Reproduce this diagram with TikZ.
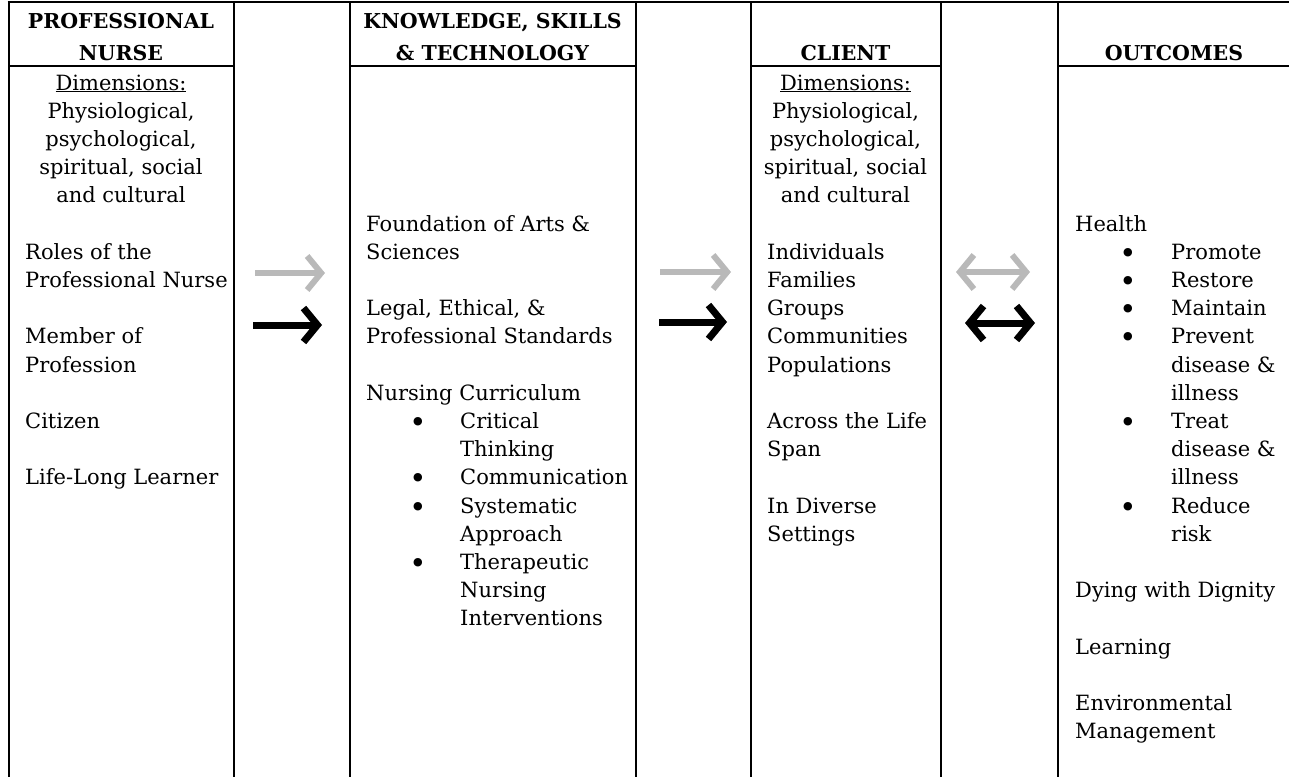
\documentclass[tikz,border=0pt]{standalone}
\usepackage{fontspec}
\setmainfont{DejaVu Serif}
\usetikzlibrary{arrows.meta}

\definecolor{arrowgray}{RGB}{185,185,185}

\tikzset{
  body/.style={inner sep=0pt, font=\fontsize{21}{28.2}\selectfont, align=left, anchor=base west},
  mid/.style={body, align=center, anchor=base},
  dot/.style={inner sep=0pt, font=\fontsize{29}{28.2}\selectfont, anchor=base, yshift=-4pt},
  head/.style={inner sep=0pt, font=\fontsize{20.5}{32}\selectfont\bfseries, align=center, anchor=base},
  tabline/.style={line width=2pt},
  blk/.style={line width=7pt, -{Straight Barb[length=14pt,width=34pt]}},
  lite/.style={blk, draw=arrowgray, line width=6pt},
  blk2/.style={line width=7pt, {Straight Barb[length=14pt,width=34pt]}-{Straight Barb[length=14pt,width=34pt]}},
  lite2/.style={blk2, draw=arrowgray, line width=6pt},
}

\begin{document}
\begin{tikzpicture}[x=1pt,y=-1pt]
\useasboundingbox (0,0) rectangle (1289,776);

% table rules
\draw[tabline] (7.5,2.5) -- (1295,2.5);
\foreach \x in {8.5,233.5,349.5,635.5,751,940.5,1058}
  \draw[tabline] (\x,2.5) -- (\x,780);
\draw[tabline] (8.5,66) -- (233.5,66);
\draw[tabline] (349.5,66) -- (635.5,66);
\draw[tabline] (751,66) -- (940.5,66);
\draw[tabline] (1058,66) -- (1295,66);

% headers (anchored at the last line)
\node[head] (nurse) at (121,60) {PROFESSIONAL\\NURSE};
\node[head] (kst) at (492.5,60) {KNOWLEDGE, SKILLS\\\& TECHNOLOGY};
\node[head] (client) at (845.5,60) {CLIENT};
\node[head] (outcomes) at (1174,60) {OUTCOMES};

% professional nurse
\node[mid] (ndim) at (121,202.8) {\underline{Dimensions:}\\Physiological,\\psychological,\\spiritual, social\\and cultural};
\node[body] (roles) at (25,287.4) {Roles of the\\Professional Nurse};
\node[body] (member) at (25,372) {Member of\\Profession};
\node[body] (citizen) at (25,428.4) {Citizen};
\node[body] (learner) at (25,484.8) {Life-Long Learner};

% knowledge, skills & technology
\node[body] (arts) at (366,259.2) {Foundation of Arts \&\\Sciences};
\node[body] (legal) at (366,343.8) {Legal, Ethical, \&\\Professional Standards};
\node[body] (curric) at (366,400.2) {Nursing Curriculum};
\node[dot] (b1) at (418,428.4) {\textbullet};
\node[body] (c1) at (460,456.6) {Critical\\Thinking};
\node[dot] (b2) at (418,484.8) {\textbullet};
\node[body] (c2) at (460,484.8) {Communication};
\node[dot] (b3) at (418,513) {\textbullet};
\node[body] (c3) at (460,541.2) {Systematic\\Approach};
\node[dot] (b4) at (418,569.4) {\textbullet};
\node[body] (c4) at (460,625.8) {Therapeutic\\Nursing\\Interventions};

% client
\node[mid] (cdim) at (845.5,202.8) {\underline{Dimensions:}\\Physiological,\\psychological,\\spiritual, social\\and cultural};
\node[body] (groups) at (767,372) {Individuals\\Families\\Groups\\Communities\\Populations};
\node[body] (span) at (767,456.6) {Across the Life\\Span};
\node[body] (settings) at (767,541.2) {In Diverse\\Settings};

% outcomes
\node[body] (health) at (1075,231) {Health};
\node[dot] (o1) at (1128,259.2) {\textbullet};
\node[body] (p1) at (1171,259.2) {Promote};
\node[dot] (o2) at (1128,287.4) {\textbullet};
\node[body] (p2) at (1171,287.4) {Restore};
\node[dot] (o3) at (1128,315.6) {\textbullet};
\node[body] (p3) at (1171,315.6) {Maintain};
\node[dot] (o4) at (1128,343.8) {\textbullet};
\node[body] (p4) at (1171,400.2) {Prevent\\disease \&\\illness};
\node[dot] (o5) at (1128,428.4) {\textbullet};
\node[body] (p5) at (1171,484.8) {Treat\\disease \&\\illness};
\node[dot] (o6) at (1128,513) {\textbullet};
\node[body] (p6) at (1171,541.2) {Reduce\\risk};
\node[body] (dying) at (1075,597.6) {Dying with Dignity};
\node[body] (learn) at (1075,654) {Learning};
\node[body] (env) at (1075,738.6) {Environmental\\Management};

% arrows
\coordinate (g1a) at (255,273);
\coordinate (g1b) at (325,273);
\coordinate (k1a) at (253,325);
\coordinate (k1b) at (322,325);
\coordinate (g2a) at (660,272);
\coordinate (g2b) at (731,272);
\coordinate (k2a) at (659,322);
\coordinate (k2b) at (727,322);
\coordinate (g3a) at (956,272);
\coordinate (g3b) at (1030,272);
\coordinate (k3a) at (965,323);
\coordinate (k3b) at (1035,323);
\draw[lite] (g1a) -- (g1b);
\draw[blk] (k1a) -- (k1b);
\draw[lite] (g2a) -- (g2b);
\draw[blk] (k2a) -- (k2b);
\draw[lite2] (g3a) -- (g3b);
\draw[blk2] (k3a) -- (k3b);
\end{tikzpicture}
\end{document}
